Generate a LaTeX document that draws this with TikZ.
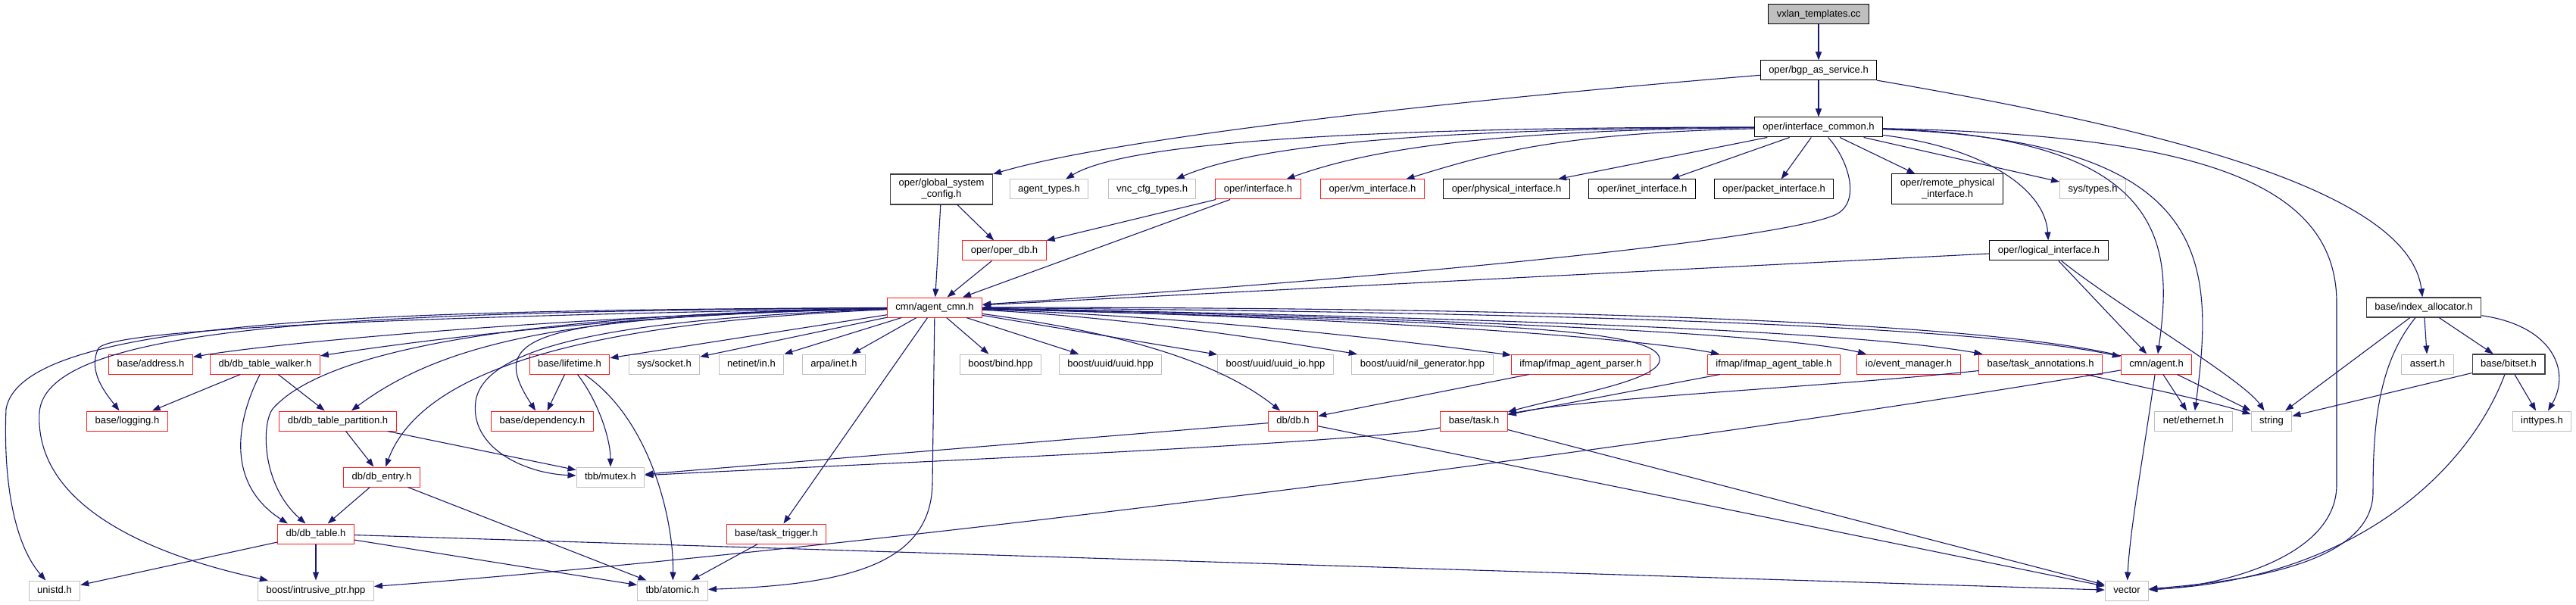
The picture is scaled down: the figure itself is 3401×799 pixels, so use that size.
\documentclass[tikz,border=0pt]{standalone}
\usepackage{fontspec}
\setmainfont{Liberation Sans}
\usetikzlibrary{arrows.meta}
\definecolor{navy}{RGB}{25,25,112}
\definecolor{trunc}{RGB}{255,28,28}
\definecolor{syshdr}{RGB}{191,191,191}
\definecolor{docdark}{RGB}{64,64,64}
\newcommand\hdrfont{\fontsize{13}{15}\selectfont}
\tikzset{
  >={Triangle[length=11pt,width=8pt]},
  hdrbase/.style={draw=#1,line width=1pt,inner xsep=11pt,inner ysep=2pt,
    font=\hdrfont,text=black},
  hdr/.style={hdrbase=#1,minimum height=26pt,text height=9.5pt,text depth=2.8pt},
  hdr/.default=black,
  hdrtwo/.style={hdrbase=#1,minimum height=40pt,align=center},
  hdrtwo/.default=black,
  dep/.style={->,draw=navy,line width=1.1pt},
}

\begin{document}
\begin{tikzpicture}[x=1pt,y=-1pt]
  \useasboundingbox (0,0) rectangle (3401,799);
  % headers, top to bottom
  \node[hdr,fill=syshdr] (vxlan) at (2401,19) {vxlan\_templates.cc};
  \node[hdr] (bgp) at (2401,93) {oper/bgp\_as\_service.h};
  \node[hdr] (icommon) at (2401,168) {oper/interface\_common.h};

  \node[hdrtwo=docdark,line width=1.3pt] (gsc) at (1243,250) {oper/global\_system\\\_config.h};
  \node[hdr=syshdr] (agenttypes) at (1385,250) {agent\_types.h};
  \node[hdr=syshdr] (vnccfg) at (1521,250) {vnc\_cfg\_types.h};
  \node[hdr=trunc] (ifaceh) at (1661,250) {oper/interface.h};
  \node[hdr=trunc] (vmiface) at (1812,250) {oper/vm\_interface.h};
  \node[hdr] (physiface) at (1989,250) {oper/physical\_interface.h};
  \node[hdr] (inetiface) at (2168,250) {oper/inet\_interface.h};
  \node[hdr] (packetiface) at (2342,250) {oper/packet\_interface.h};
  \node[hdrtwo] (remotephys) at (2571,250) {oper/remote\_physical\\\_interface.h};
  \node[hdr=syshdr] (systypes) at (2763,250) {sys/types.h};

  \node[hdr=trunc] (operdb) at (1326,331) {oper/oper\_db.h};
  \node[hdr] (logiface) at (2705,331) {oper/logical\_interface.h};

  \node[hdr=trunc] (agentcmn) at (1234,406) {cmn/agent\_cmn.h};
  \node[hdr=docdark,line width=1.3pt] (idxalloc) at (3200,406) {base/index\_allocator.h};

  \node[hdr=trunc] (address) at (199,481) {base/address.h};
  \node[hdr=trunc] (walker) at (350,481) {db/db\_table\_walker.h};
  \node[hdr=trunc] (lifetime) at (752,481) {base/lifetime.h};
  \node[hdr=syshdr] (syssocket) at (877,481) {sys/socket.h};
  \node[hdr=syshdr] (netinetin) at (992,481) {netinet/in.h};
  \node[hdr=syshdr] (arpainet) at (1101,481) {arpa/inet.h};
  \node[hdr=syshdr] (boostbind) at (1321,481) {boost/bind.hpp};
  \node[hdr=syshdr] (uuid) at (1466,481) {boost/uuid/uuid.hpp};
  \node[hdr=syshdr] (uuidio) at (1684,481) {boost/uuid/uuid\_io.hpp};
  \node[hdr=syshdr] (nilgen) at (1878,481) {boost/uuid/nil\_generator.hpp};
  \node[hdr=trunc] (ifparser) at (2087,481) {ifmap/ifmap\_agent\_parser.h};
  \node[hdr=trunc] (iftable) at (2342,481) {ifmap/ifmap\_agent\_table.h};
  \node[hdr=trunc] (eventmgr) at (2520,481) {io/event\_manager.h};
  \node[hdr=trunc] (taskann) at (2694,481) {base/task\_annotations.h};
  \node[hdr=trunc] (agenth) at (2847,481) {cmn/agent.h};
  \node[hdr=syshdr] (asserth) at (3205,481) {assert.h};
  \node[hdr=docdark,line width=1.3pt] (bitset) at (3312,481) {base/bitset.h};

  \node[hdr=trunc] (logging) at (168,556) {base/logging.h};
  \node[hdr=trunc] (partition) at (446,556) {db/db\_table\_partition.h};
  \node[hdr=trunc] (dependency) at (716,556) {base/dependency.h};
  \node[hdr=trunc] (dbh) at (1707,556) {db/db.h};
  \node[hdr=trunc] (taskh) at (1946,556) {base/task.h};
  \node[hdr=syshdr] (netether) at (2896,556) {net/ethernet.h};
  \node[hdr=syshdr] (string) at (2999,556) {string};
  \node[hdr=syshdr] (inttypes) at (3356,556) {inttypes.h};

  \node[hdr=trunc] (dbentry) at (504,630) {db/db\_entry.h};
  \node[hdr=syshdr] (mutex) at (806,630) {tbb/mutex.h};

  \node[hdr=trunc] (dbtable) at (417,705) {db/db\_table.h};
  \node[hdr=trunc] (tasktrigger) at (1025,705) {base/task\_trigger.h};

  \node[hdr=syshdr] (unistd) at (72,780) {unistd.h};
  \node[hdr=syshdr] (intrusive) at (417,780) {boost/intrusive\_ptr.hpp};
  \node[hdr=syshdr] (atomic) at (888,780) {tbb/atomic.h};
  \node[hdr=syshdr] (vector) at (2808,780) {vector};

  % includes
  \draw[dep] (vxlan) -- (bgp);
  \draw[dep] (bgp) -- (icommon);
  \draw[dep] (bgp) .. controls (1950,130) and (1480,180) .. (gsc);
  \draw[dep] (bgp) .. controls (2850,170) and (3180,250) .. (idxalloc);

  \draw[dep] (icommon) .. controls (1750,168) and (1480,192) .. (agenttypes);
  \draw[dep] (icommon) .. controls (1850,170) and (1650,195) .. (vnccfg);
  \draw[dep] (icommon) .. controls (1950,172) and (1800,200) .. (ifaceh);
  \draw[dep] (icommon) .. controls (2050,176) and (1960,205) .. (vmiface);
  \foreach \t in {physiface,inetiface,packetiface,remotephys,systypes}
    \draw[dep] (icommon) -- (\t);
  \draw[dep] (icommon) .. controls (2620,195) and (2700,250) .. (logiface);
  \draw[dep] (icommon) .. controls (2870,180) and (2868,330) .. (agenth);
  \draw[dep] (icommon) .. controls (2920,185) and (2925,340) .. (netether);
  \draw[dep] (icommon) .. controls (2900,178) and (3085,240) .. (3085,400)
    -- (3085,640) .. controls (3085,740) and (2920,775) .. (vector);
  \draw[dep] (icommon) .. controls (2440,210) and (2460,270) .. (2420,285)
    .. controls (2330,320) and (1800,370) .. (agentcmn);

  \draw[dep] (gsc) -- (operdb);
  \draw[dep] (gsc) -- (agentcmn);
  \draw[dep] (operdb) -- (agentcmn);
  \draw[dep] (ifaceh) -- (operdb);
  \draw[dep] (ifaceh) -- (agentcmn);
  \draw[dep] (logiface) -- (agentcmn);
  \draw[dep] (logiface) -- (agenth);
  \draw[dep] (logiface) .. controls (2790,400) and (2960,500) .. (string);

  % cmn/agent_cmn.h fan
  \foreach \t in {syssocket,netinetin,arpainet,lifetime,tasktrigger,boostbind,uuid,uuidio}
    \draw[dep] (agentcmn) -- (\t);
  \draw[dep] (agentcmn) .. controls (1500,420) and (1680,450) .. (nilgen);
  \draw[dep] (agentcmn) .. controls (1600,420) and (1850,450) .. (ifparser);
  \draw[dep] (agentcmn) .. controls (1800,420) and (2150,445) .. (iftable);
  \draw[dep] (agentcmn) .. controls (1900,420) and (2350,440) .. (eventmgr);
  \draw[dep] (agentcmn) .. controls (2000,420) and (2450,438) .. (taskann);
  \draw[dep] (agentcmn) .. controls (2000,412) and (2600,428) .. (agenth);
  \draw[dep] (agenth) .. controls (2600,422) and (2000,406) .. (agentcmn);
  \draw[dep] (agentcmn) .. controls (1450,435) and (1600,470) .. (dbh);
  \draw[dep] (agentcmn) .. controls (1900,425) and (2170,430) .. (2190,470)
    .. controls (2205,500) and (2080,520) .. (taskh);
  \draw[dep] (agentcmn) -- (1231,640) .. controls (1228,745) and (1120,772) .. (atomic);

  \draw[dep] (agentcmn) .. controls (800,415) and (380,450) .. (address);
  \draw[dep] (agentcmn) .. controls (800,415) and (520,455) .. (walker);
  \draw[dep] (agentcmn) .. controls (700,415) and (150,430) .. (130,460)
    .. controls (115,490) and (140,520) .. (logging);
  \draw[dep] (agentcmn) .. controls (800,415) and (600,440) .. (partition);
  \draw[dep] (agentcmn) .. controls (800,425) and (560,480) .. (dbentry);
  \draw[dep] (agentcmn) .. controls (700,420) and (640,440) .. (dependency);
  \draw[dep] (agentcmn) .. controls (850,420) and (640,450) .. (628,530)
    .. controls (620,590) and (690,625) .. (mutex);
  \draw[dep] (agentcmn) .. controls (700,415) and (430,460) .. (360,540)
    .. controls (345,560) and (345,640) .. (dbtable.135);
  \draw[dep] (agentcmn) .. controls (500,410) and (30,420) .. (8,540)
    .. controls (4,640) and (20,720) .. (unistd);
  \draw[dep] (agentcmn) .. controls (500,412) and (60,425) .. (52,545)
    .. controls (45,680) and (230,740) .. (intrusive);

  % lower levels
  \draw[dep] (walker) -- (logging);
  \draw[dep] (walker) -- (partition);
  \draw[dep] (walker) .. controls (310,560) and (300,640) .. (dbtable.160);
  \draw[dep] (partition) -- (dbentry);
  \draw[dep] (partition) -- (mutex);
  \draw[dep] (dbentry) -- (dbtable);
  \draw[dep] (dbentry) -- (atomic);
  \foreach \t in {unistd,intrusive,atomic,vector}
    \draw[dep] (dbtable) -- (\t);
  \draw[dep] (lifetime) -- (dependency);
  \draw[dep] (lifetime) .. controls (790,530) and (806,580) .. (mutex);
  \draw[dep] (lifetime) .. controls (860,555) and (890,690) .. (atomic);
  \draw[dep] (tasktrigger) -- (atomic);
  \draw[dep] (ifparser) -- (dbh);
  \draw[dep] (iftable) -- (taskh);
  \draw[dep] (taskann) .. controls (2400,512) and (2100,525) .. (taskh);
  \draw[dep] (taskann) .. controls (2800,505) and (2920,530) .. (string);
  \foreach \t in {mutex,vector}
    \draw[dep] (dbh) -- (\t);
  \draw[dep] (taskh) .. controls (1800,585) and (1200,610) .. (mutex);
  \draw[dep] (taskh) -- (vector);

  \foreach \t in {netether,string}
    \draw[dep] (agenth) -- (\t);
  \draw[dep] (agenth) .. controls (2830,600) and (2812,700) .. (vector);
  \draw[dep] (agenth) .. controls (2200,590) and (1100,730) .. (intrusive);

  \foreach \t in {asserth,bitset,string}
    \draw[dep] (idxalloc) -- (\t);
  \draw[dep] (idxalloc) .. controls (3370,430) and (3395,490) .. (inttypes);
  \draw[dep] (idxalloc) .. controls (3140,480) and (3133,560) .. (3133,650)
    .. controls (3133,745) and (2960,768) .. (vector);
  \draw[dep] (bitset) -- (string);
  \draw[dep] (bitset) -- (inttypes);
  \draw[dep] (bitset) .. controls (3260,620) and (3110,765) .. (vector);
\end{tikzpicture}
\end{document}
